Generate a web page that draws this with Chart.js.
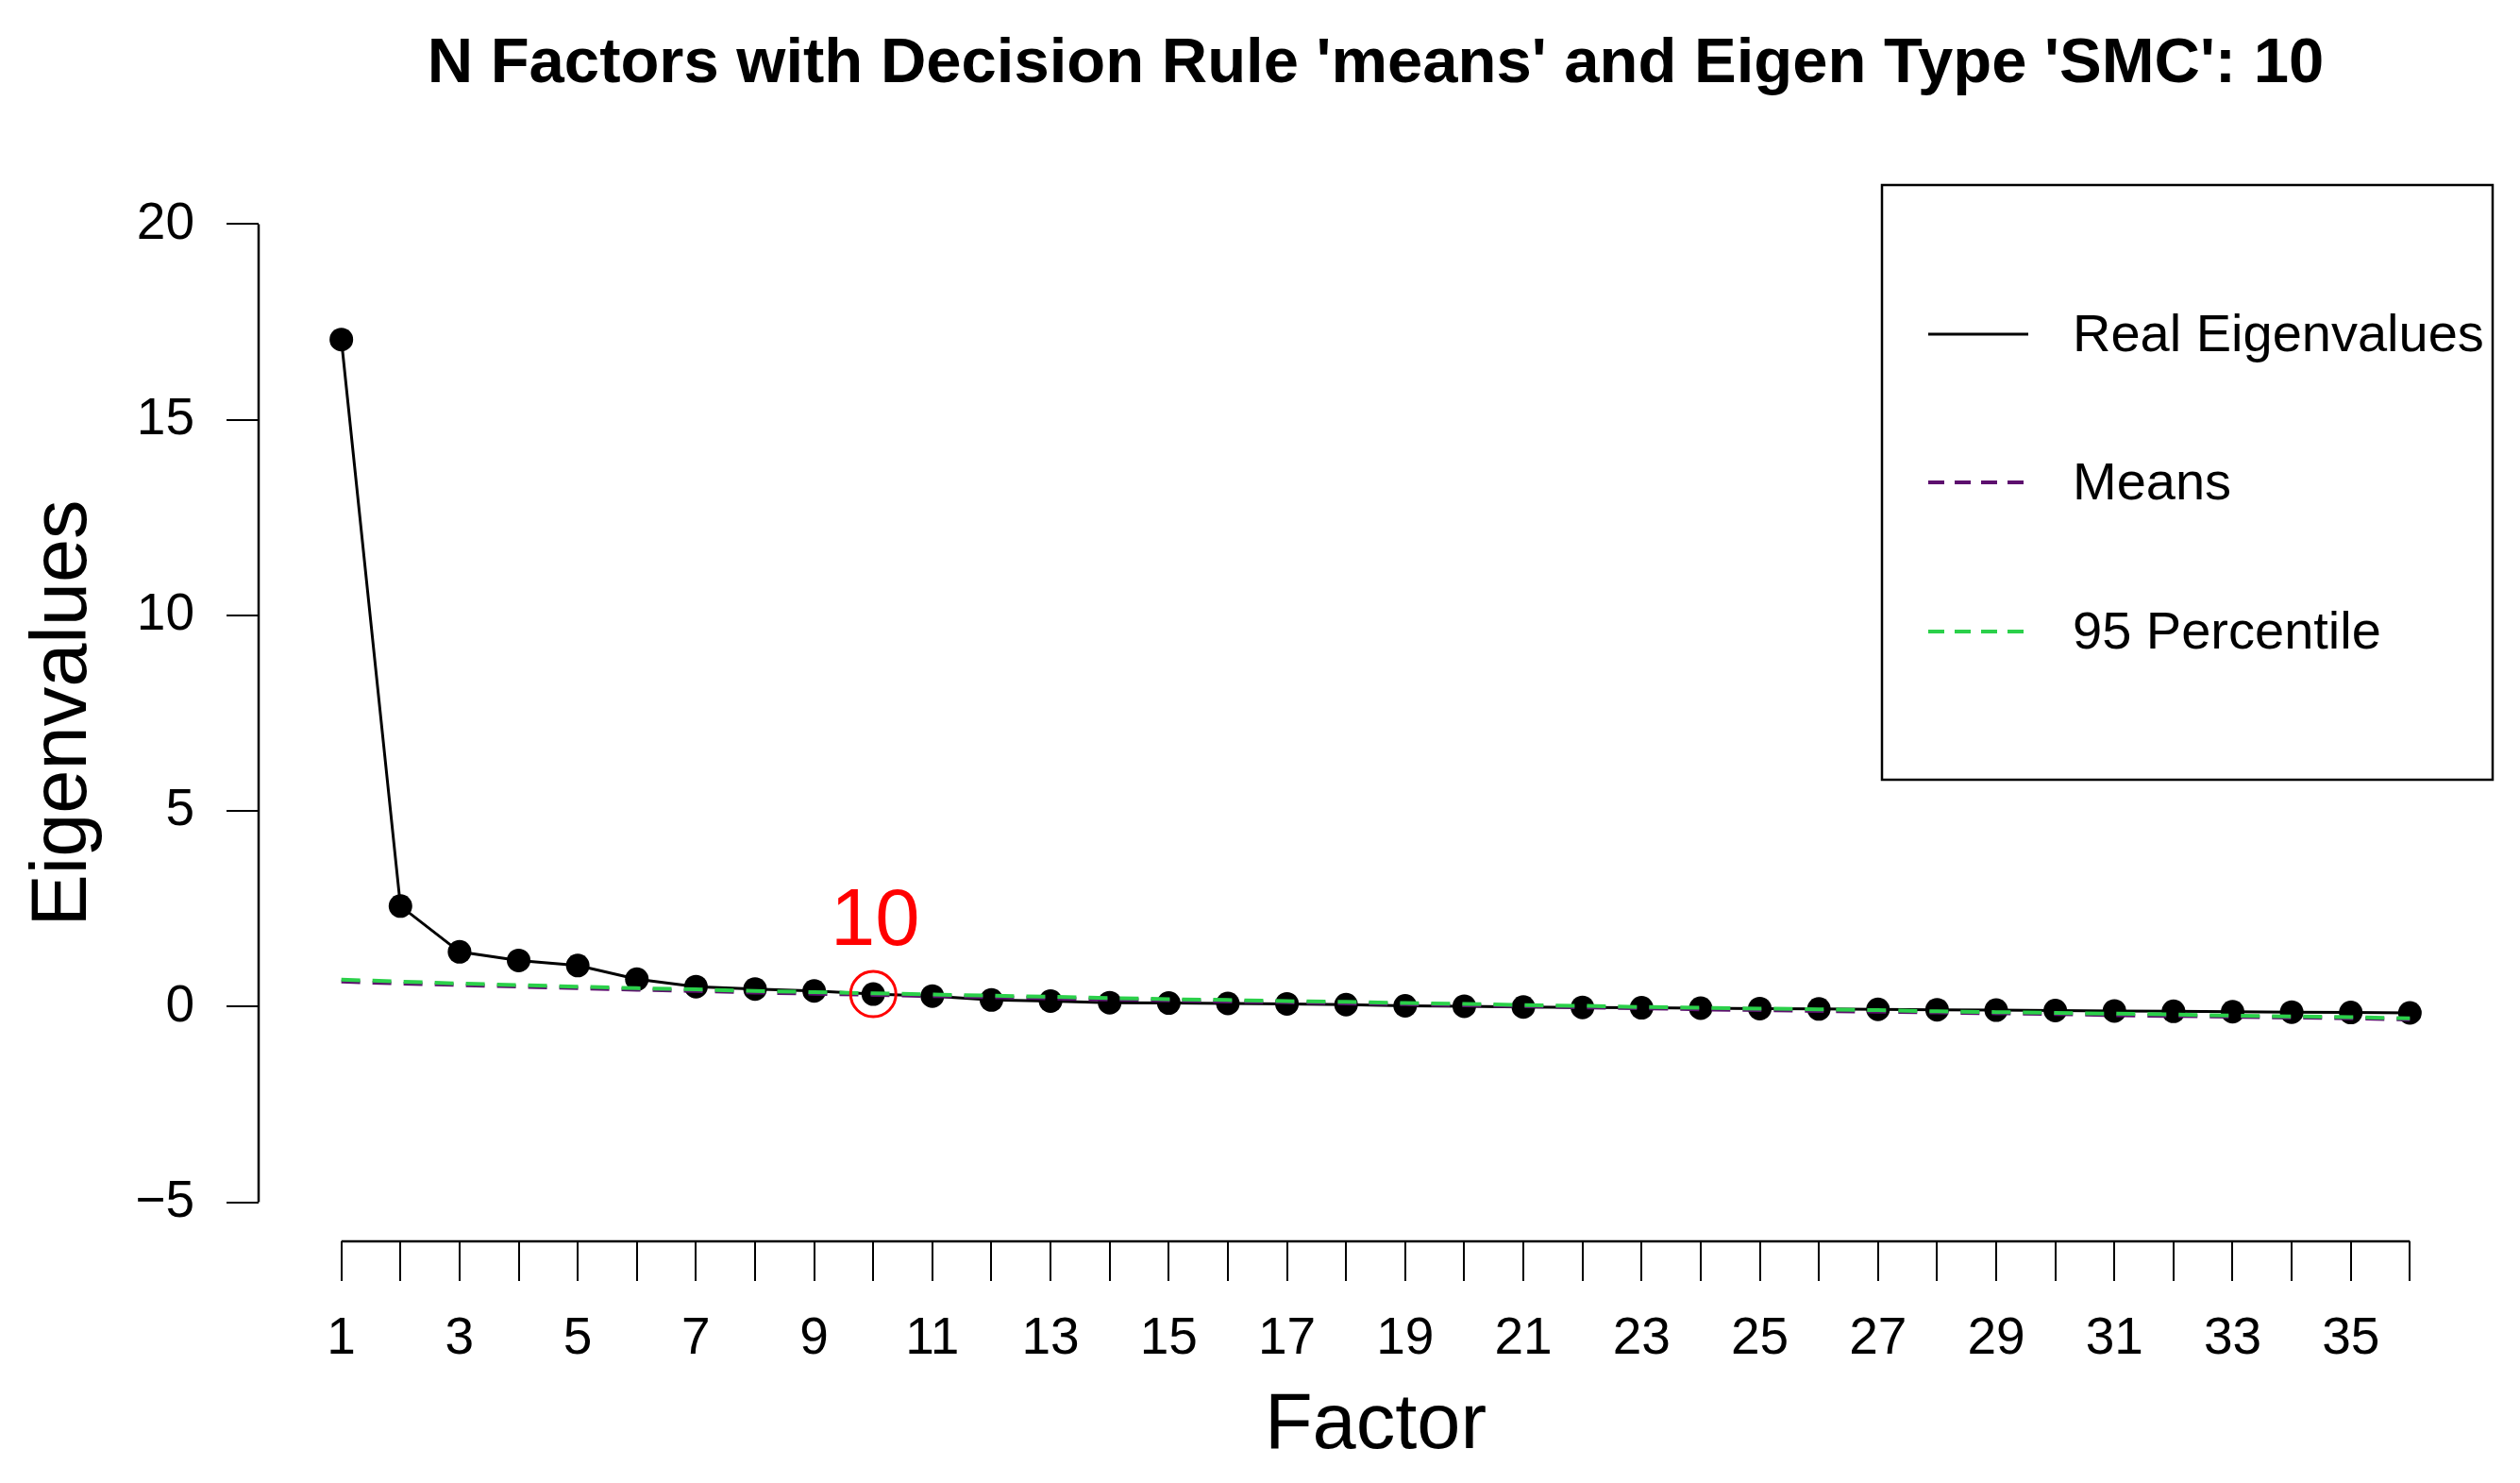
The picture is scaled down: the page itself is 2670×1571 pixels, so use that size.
<!DOCTYPE html>
<html><head><meta charset="utf-8">
<script src="https://cdn.jsdelivr.net/npm/chart.js@4/dist/chart.umd.min.js"></script>
<style>html,body{margin:0;padding:0;background:#fff}canvas{display:block}</style>
</head><body>
<canvas id="c" width="2670" height="1571" style="width:2670px;height:1571px"></canvas>
<script>
// ---- data ----
const factors = [1,2,3,4,5,6,7,8,9,10,11,12,13,14,15,16,17,18,19,20,21,22,23,24,25,26,27,28,29,30,31,32,33,34,35,36];
const realEigen = [17.05,2.57,1.40,1.18,1.05,0.70,0.51,0.45,0.40,0.32,0.27,0.17,0.14,0.10,0.09,0.08,0.07,0.05,0.02,0.01,-0.01,-0.02,-0.03,-0.04,-0.05,-0.06,-0.07,-0.08,-0.09,-0.10,-0.11,-0.12,-0.13,-0.14,-0.15,-0.16];
const meansEigen = [0.64,0.59,0.55,0.51,0.47,0.43,0.40,0.36,0.33,0.30,0.27,0.24,0.21,0.18,0.16,0.13,0.11,0.08,0.06,0.03,0.01,-0.02,-0.04,-0.07,-0.09,-0.11,-0.13,-0.15,-0.17,-0.19,-0.22,-0.24,-0.26,-0.28,-0.30,-0.33];
const pctEigen = [0.69,0.64,0.59,0.55,0.51,0.47,0.44,0.40,0.37,0.34,0.31,0.28,0.25,0.22,0.19,0.17,0.14,0.12,0.09,0.07,0.04,0.02,-0.01,-0.03,-0.05,-0.07,-0.09,-0.12,-0.14,-0.16,-0.18,-0.20,-0.23,-0.25,-0.27,-0.30];
const yTickValues = [-5,0,5,10,15,20];
const xLabelValues = [1,3,5,7,9,11,13,15,17,19,21,23,25,27,29,31,33,35];
const nFactorsChosen = 10;
const titleText = "N Factors with Decision Rule 'means' and Eigen Type 'SMC': 10";
const xTitle = 'Factor';
const yTitle = 'Eigenvalues';
const legendLabels = ['Real Eigenvalues','Means','95 Percentile'];

// ---- styles ----
const FONT = '"Liberation Sans", Arial, Helvetica, sans-serif';
const PURPLE = '#5D0F6E';
const GREEN = '#2BD04A';

const toXY = (vals) => factors.map((f, i) => ({x: f, y: vals[i]}));

const decorPlugin = {
  id: 'decor',
  afterDraw(chart) {
    const ctx = chart.ctx;
    const xs = chart.scales.x, ys = chart.scales.y, ca = chart.chartArea;
    ctx.save();
    // axis lines (R style, spanning first to last tick)
    ctx.strokeStyle = '#000';
    ctx.lineWidth = 2.5;
    ctx.beginPath();
    const ax = Math.round(ca.left);
    ctx.moveTo(ax, ys.getPixelForValue(yTickValues[0]));
    ctx.lineTo(ax, ys.getPixelForValue(yTickValues[yTickValues.length-1]));
    const ay = Math.round(ca.bottom);
    ctx.moveTo(xs.getPixelForValue(factors[0]), ay);
    ctx.lineTo(xs.getPixelForValue(factors[factors.length-1]), ay);
    ctx.stroke();

    // title
    ctx.fillStyle = '#000';
    ctx.font = 'bold 67px ' + FONT;
    ctx.textAlign = 'center';
    ctx.textBaseline = 'alphabetic';
    ctx.fillText(titleText, (ca.left + ca.right) / 2, 87);

    // "10" label above the chosen factor
    const px = xs.getPixelForValue(nFactorsChosen);
    const py = ys.getPixelForValue(realEigen[nFactorsChosen - 1]);
    ctx.fillStyle = '#FF0000';
    ctx.font = '85px ' + FONT;
    ctx.textBaseline = 'middle';
    ctx.fillText(String(nFactorsChosen), px + 2, py - 76);

    // legend box
    const lx = 1994, ly = ca.top, lr = ca.right, lb = 826;
    ctx.strokeStyle = '#000';
    ctx.lineWidth = 2.5;
    ctx.strokeRect(lx, ly, lr - lx, lb - ly);
    const rows = [357, 514, 672];
    const cols = ['#000', PURPLE, GREEN];
    const dashes = [[], [17, 11], [17, 11]];
    const widths = [3, 4, 4];
    ctx.textAlign = 'left';
    ctx.font = '56px ' + FONT;
    for (let i = 0; i < 3; i++) {
      ctx.beginPath();
      ctx.setLineDash(dashes[i]);
      ctx.strokeStyle = cols[i];
      ctx.lineWidth = widths[i];
      ctx.moveTo(2043, rows[i] - 3);
      ctx.lineTo(2149, rows[i] - 3);
      ctx.stroke();
      ctx.setLineDash([]);
      ctx.fillStyle = '#000';
      ctx.textBaseline = 'middle';
      ctx.fillText(legendLabels[i], 2196, rows[i]);
    }
    ctx.restore();
  }
};

new Chart(document.getElementById('c'), {
  type: 'line',
  data: {
    datasets: [
      {
        label: 'chosen',
        data: [{x: nFactorsChosen, y: realEigen[nFactorsChosen - 1]}],
        showLine: false,
        pointRadius: 24,
        pointBorderWidth: 3,
        pointBorderColor: '#FF0000',
        pointBackgroundColor: 'rgba(0,0,0,0)',
        order: -1
      },
      {
        label: legendLabels[2],
        data: toXY(pctEigen),
        borderColor: GREEN,
        borderWidth: 4,
        borderDash: [20, 13],
        pointRadius: 0,
        tension: 0,
        order: 0
      },
      {
        label: legendLabels[1],
        data: toXY(meansEigen),
        borderColor: PURPLE,
        borderWidth: 4,
        borderDash: [20, 13],
        pointRadius: 0,
        tension: 0,
        order: 1
      },
      {
        label: legendLabels[0],
        data: toXY(realEigen),
        borderColor: '#000',
        borderWidth: 3,
        pointRadius: 12.5,
        pointBorderWidth: 0,
        pointBackgroundColor: '#000',
        pointBorderColor: '#000',
        tension: 0,
        order: 2
      }
    ]
  },
  options: {
    responsive: false,
    animation: false,
    devicePixelRatio: 1,
    layout: {padding: {top: 196, right: 29, bottom: 0, left: 0}},
    plugins: {legend: {display: false}, title: {display: false}, tooltip: {enabled: false}},
    scales: {
      x: {
        type: 'linear',
        position: 'bottom',
        min: -0.4,
        max: 37.4,
        afterBuildTicks: (s) => { s.ticks = factors.map(v => ({value: v})); },
        afterFit: (s) => { s.height = 256; },
        ticks: {
          autoSkip: false,
          maxRotation: 0,
          minRotation: 0,
          padding: 29,
          color: '#000',
          font: {family: FONT, size: 55},
          callback: (v) => xLabelValues.includes(v) ? String(v) : ''
        },
        grid: {drawOnChartArea: false, drawTicks: true, tickLength: 42, color: '#000', lineWidth: 2},
        border: {display: false},
        title: {display: true, text: xTitle, color: '#000', font: {family: FONT, size: 83}, padding: {top: 0, bottom: 10}}
      },
      y: {
        type: 'linear',
        position: 'left',
        min: -6,
        max: 21,
        afterBuildTicks: (s) => { s.ticks = yTickValues.map(v => ({value: v})); },
        afterFit: (s) => { s.width = 274; },
        ticks: {
          padding: 34,
          color: '#000',
          font: {family: FONT, size: 55},
          callback: (v) => (v < 0 ? '\u2212' + Math.abs(v) : String(v))
        },
        grid: {drawOnChartArea: false, drawTicks: true, tickLength: 34, color: '#000', lineWidth: 2},
        border: {display: false},
        title: {display: true, text: yTitle, color: '#000', font: {family: FONT, size: 83}, padding: {top: 18, bottom: 0}}
      }
    }
  },
  plugins: [decorPlugin]
});
</script>
</body></html>
